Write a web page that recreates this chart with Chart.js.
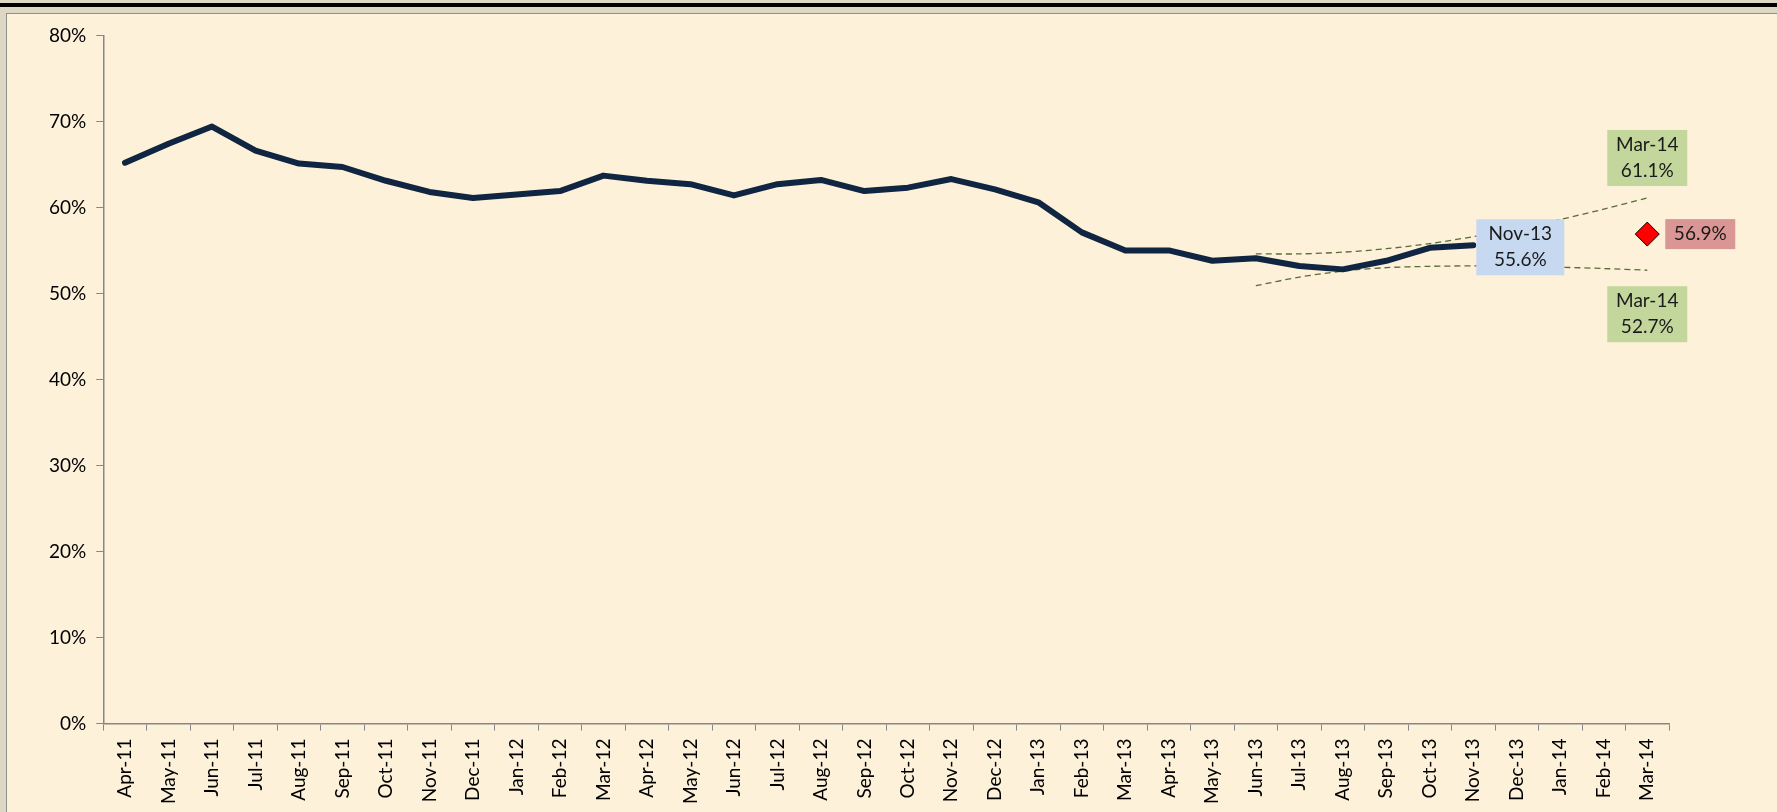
<!DOCTYPE html>
<html>
<head>
<meta charset="utf-8">
<script src="https://cdn.jsdelivr.net/npm/chart.js@4.4.0/dist/chart.umd.min.js"></script>
<style>
  html, body { margin: 0; padding: 0; }
  body { width: 1777px; height: 812px; background: #ddd8c4; position: relative; overflow: hidden; font-family: Lato, sans-serif; }
  .topbar { position: absolute; left: 0; top: 3px; width: 1777px; height: 4px; background: #000; }
  .frame { position: absolute; left: 6px; top: 13px; width: 1771px; height: 799px; background: #fdf1da; border-left: 1px solid #8f8f8f; border-top: 1px solid #8f8f8f; }
  canvas { display: block; }
</style>
</head>
<body>
<div class="topbar"></div>
<div class="frame"><canvas id="rateChart" width="1770" height="798"></canvas></div>
<script>
// Data
const months = ['Apr-11','May-11','Jun-11','Jul-11','Aug-11','Sep-11','Oct-11','Nov-11','Dec-11',
  'Jan-12','Feb-12','Mar-12','Apr-12','May-12','Jun-12','Jul-12','Aug-12','Sep-12','Oct-12','Nov-12','Dec-12',
  'Jan-13','Feb-13','Mar-13','Apr-13','May-13','Jun-13','Jul-13','Aug-13','Sep-13','Oct-13','Nov-13','Dec-13',
  'Jan-14','Feb-14','Mar-14'];
const actual = [65.2, 67.4, 69.4, 66.6, 65.1, 64.7, 63.1, 61.8, 61.1,
  61.5, 61.9, 63.7, 63.1, 62.7, 61.4, 62.7, 63.2, 61.9, 62.3, 63.3, 62.1,
  60.6, 57.1, 55.0, 55.0, 53.8, 54.1, 53.2, 52.8, 53.8, 55.3, 55.6,
  null, null, null, null];
// trend lines, Jun-13 .. Mar-14
const trendUpper = [54.6, 54.6, 54.8, 55.2, 55.8, 56.6, 57.5, 58.6, 59.8, 61.1];
const trendLower = [50.9, 51.9, 52.6, 53.0, 53.15, 53.2, 53.15, 53.05, 52.9, 52.7];
const target = 56.9;
const yTicks = [0, 10, 20, 30, 40, 50, 60, 70, 80];

const trendStart = months.indexOf('Jun-13');
function padSeries(vals, start) {
  const out = months.map(() => null);
  vals.forEach((v, i) => { out[start + i] = v; });
  return out;
}
const targetSeries = months.map((m, i) => i === months.length - 1 ? target : null);

const FONT = 'Lato, sans-serif';

// Callout boxes next to points
const calloutPlugin = {
  id: 'callouts',
  afterDatasetsDraw(chart) {
    const { ctx, scales: { x, y } } = chart;
    const last = months.length - 1;
    const nov = months.indexOf('Nov-13');
    const box = (cx, cy, w, lines, bg) => {
      const h = lines.length * 26 + 4;
      ctx.save();
      ctx.fillStyle = bg;
      ctx.fillRect(cx - w / 2, cy - h / 2, w, h);
      ctx.fillStyle = '#1a1a1a';
      ctx.font = '19px ' + FONT;
      ctx.textAlign = 'center';
      ctx.textBaseline = 'middle';
      lines.forEach((t, i) => ctx.fillText(t, cx, cy - h / 2 + 15 + i * 26));
      ctx.restore();
    };
    box(x.getPixelForValue(nov) + 47, y.getPixelForValue(actual[nov]) + 2, 88, [months[nov], actual[nov].toFixed(1) + '%'], '#c6d9f1');
    box(x.getPixelForValue(last), y.getPixelForValue(trendUpper[trendUpper.length - 1]) - 40, 80, [months[last], trendUpper[trendUpper.length - 1].toFixed(1) + '%'], '#c3d69b');
    box(x.getPixelForValue(last), y.getPixelForValue(trendLower[trendLower.length - 1]) + 44, 80, [months[last], trendLower[trendLower.length - 1].toFixed(1) + '%'], '#c3d69b');
    box(x.getPixelForValue(last) + 53, y.getPixelForValue(target), 70, [target.toFixed(1) + '%'], '#da9694');
  }
};

new Chart(document.getElementById('rateChart'), {
  type: 'line',
  data: {
    labels: months,
    datasets: [
      { data: actual, borderColor: '#0f2541', borderWidth: 6, pointRadius: 0, borderCapStyle: 'round', borderJoinStyle: 'round', tension: 0 },
      { data: padSeries(trendUpper, trendStart), borderColor: '#5a6b35', borderWidth: 1.3, borderDash: [6, 4], pointRadius: 0, tension: 0.3 },
      { data: padSeries(trendLower, trendStart), borderColor: '#5a6b35', borderWidth: 1.3, borderDash: [6, 4], pointRadius: 0, tension: 0.3 },
      { data: targetSeries, showLine: false, pointStyle: 'rectRot', pointRadius: 12, pointBackgroundColor: '#ff0000', pointBorderColor: '#000', pointBorderWidth: 1 }
    ]
  },
  options: {
    responsive: false,
    animation: false,
    layout: { padding: { left: 32, right: 108, top: 19.5, bottom: 0 } },
    plugins: { legend: { display: false }, tooltip: { enabled: false } },
    scales: {
      x: {
        offset: true,
        grid: { offset: true, drawOnChartArea: false, color: '#868686', tickLength: 7, tickColor: '#868686' },
        border: { color: '#868686', width: 1.5 },
        ticks: { minRotation: 90, maxRotation: 90, autoSkip: false, color: '#000', padding: 8, font: { family: FONT, size: 19 } }
      },
      y: {
        min: yTicks[0], max: yTicks[yTicks.length - 1],
        afterBuildTicks: (axis) => { axis.ticks = yTicks.map(v => ({ value: v })); },
        grid: { drawOnChartArea: false, tickLength: 7, tickColor: '#868686' },
        border: { color: '#868686', width: 1.5 },
        ticks: { color: '#000', padding: 10, font: { family: FONT, size: 19 }, callback: v => v + '%' }
      }
    }
  },
  plugins: [calloutPlugin]
});
</script>
</body>
</html>
